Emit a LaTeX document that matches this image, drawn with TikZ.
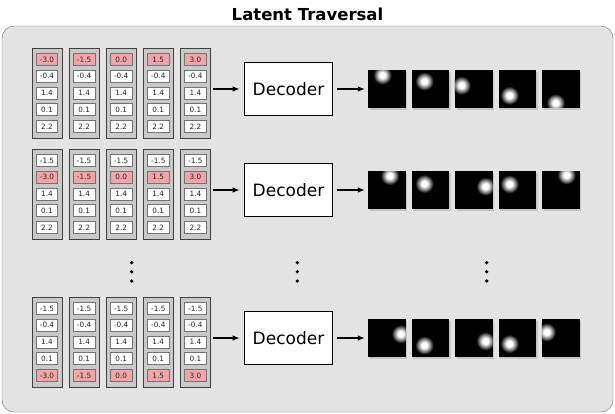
\documentclass[tikz,border=0pt]{standalone}
\usepackage{fontspec}
\setmainfont{DejaVu Sans}
\usetikzlibrary{arrows.meta,shadows}

\definecolor{panelgray}{HTML}{E3E3E3}
\definecolor{colgray}{HTML}{C9C9C9}
\definecolor{hotpink}{HTML}{F4A3A8}

% white spot fading into the black frame
\pgfdeclareradialshading{blob}{\pgfpoint{0bp}{0bp}}{color(0bp)=(white); color(7bp)=(white); color(14bp)=(black!40!white); color(23bp)=(black); color(50bp)=(black)}

\tikzset{
  latent/.style={draw=black!75, fill=colgray, line width=0.9pt, minimum width=30pt, minimum height=90pt, inner sep=0pt},
  cell/.style={draw=black!55, fill=white, line width=0.6pt, minimum width=21.5pt, minimum height=12pt, inner sep=0pt, font=\fontsize{7.3}{8}\selectfont, text=black!85},
  hot/.style={fill=hotpink},
  decoder/.style={draw, line width=1.6pt, fill=white, minimum width=88pt, minimum height=53pt, inner sep=0pt, font=\fontsize{17}{20}\selectfont},
  sample/.style={fill=black, minimum size=37.5pt, inner sep=0pt, drop shadow={shadow xshift=1.5pt, shadow yshift=-2pt, opacity=0.3}},
  flow/.style={-{Latex[length=7pt,width=5.5pt]}, line width=1.2pt},
  vdot/.style={circle, fill=black, inner sep=0pt, minimum size=3.6pt}
}

\begin{document}
\begin{tikzpicture}[x=1pt,y=-1pt]
\useasboundingbox (0,0) rectangle (615,413);
\draw[draw=black!60, fill=panelgray, rounded corners=12pt] (2,26) rectangle (613,412);
\node[font=\bfseries\fontsize{16.5}{19}\selectfont] (title) at (307.5,14) {Latent Traversal};

% one row per traversed latent: name / height / traversed entry / spot positions
\foreach \r/\ry/\hot/\blobs in {
    a/89/1/{0.38/0.13,0.34/0.29,0.17/0.40,0.29/0.67,0.36/0.87},
    b/190/2/{0.58/0.12,0.34/0.33,0.81/0.40,0.29/0.34,0.65/0.10},
    c/338/5/{0.87/0.39,0.34/0.69,0.81/0.58,0.29/0.65,0.12/0.34}} {
  % latent vectors
  \foreach \v [count=\j] in {-3.0,-1.5,0.0,1.5,3.0} {
    \node[latent] (\r-col-\j) at ({47+37.1*(\j-1)},{\ry+4}) {};
    \foreach \b [count=\i] in {-1.5,-0.4,1.4,0.1,2.2} {
      \ifnum\i=\hot
        \node[cell,hot] (\r-\j-\i) at ({47+37.1*(\j-1)},{\ry+4+16.75*(\i-3)}) {\v};
      \else
        \node[cell] (\r-\j-\i) at ({47+37.1*(\j-1)},{\ry+4+16.75*(\i-3)}) {\b};
      \fi
    }
  }
  \node[decoder] (\r-dec) at (288.5,\ry) {Decoder};
  \draw[flow, shorten <=2pt, shorten >=4pt] (\r-col-5.east |- \r-dec.west) -- (\r-dec.west);
  % decoded frames
  \foreach \fx/\fy [count=\k] in \blobs {
    \node[sample] (\r-img-\k) at ({386.8+43.5*(\k-1)},\ry) {};
    \begin{scope}
      \clip (\r-img-\k.south west) rectangle (\r-img-\k.north east);
      \shade[shading=blob] ({368+43.5*(\k-1)+37.5*\fx},{\ry-18.75+37.5*\fy}) circle (10);
    \end{scope}
  }
  \draw[flow, shorten <=3.5pt, shorten >=3pt] (\r-dec) -- (\r-img-1);
}

% vertical ellipses
\foreach \dx [count=\m] in {131.7,297.3,486.7}
  \foreach \dy [count=\n] in {262.7,271.8,281}
    \node[vdot] (dot-\m-\n) at (\dx,\dy) {};
\end{tikzpicture}
\end{document}
